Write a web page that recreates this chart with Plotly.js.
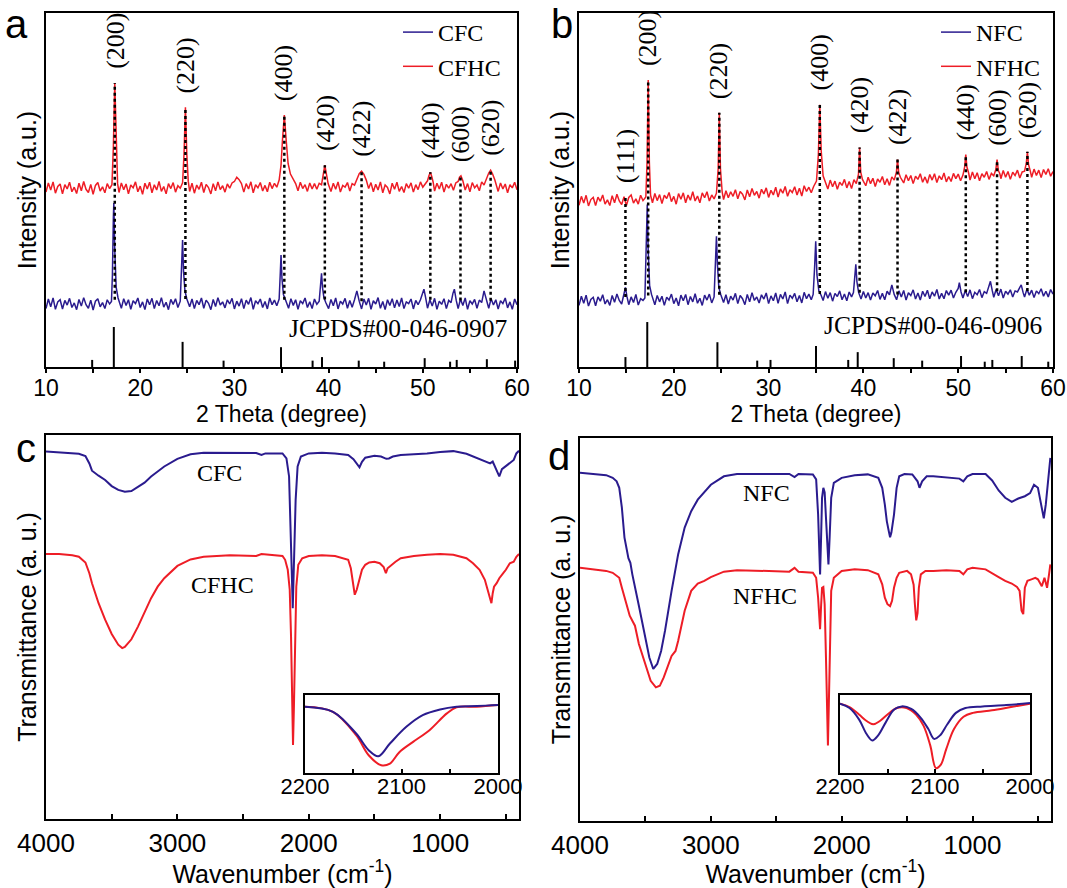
<!DOCTYPE html>
<html>
<head>
<meta charset="utf-8">
<script src="https://cdn.plot.ly/plotly-3.0.1.min.js"></script>
<style>html,body{margin:0;padding:0;background:#fff;}#chart{width:1067px;height:888px;}</style>
</head>
<body>
<div id="chart"></div>
<script>
// ---------------- DATA ----------------
// Panel a : XRD of CFHC (red) and CFC (blue), intensity in a.u.
const cfhcX = [10,10.25,10.5,10.75,11,11.25,11.5,11.75,12,12.25,12.5,12.75,13,13.25,13.5,13.75,14,14.25,14.5,14.75,15,15.25,15.5,15.75,16,16.25,16.5,16.75,
  17.0,17.15,17.3,17.45,17.6,
  17.75,18,18.25,18.5,18.75,19,19.25,19.5,19.75,20,20.25,20.5,20.75,21,21.25,21.5,21.75,22,22.25,22.5,22.75,23,23.25,23.5,23.75,24,24.25,
  24.5,24.65,24.8,24.95,25.1,
  25.25,25.5,25.75,26,26.25,26.5,26.75,27,27.25,27.5,27.75,28,28.25,28.5,28.75,29,29.25,29.5,29.75,
  30,30.25,30.5,30.75,
  31,31.25,31.5,31.75,32,32.25,32.5,32.75,33,33.25,33.5,33.75,34,34.25,34.5,
  34.75,34.95,35.1,35.3,35.5,35.7,35.95,36.25,36.5,
  36.75,37,37.25,37.5,37.75,38,38.25,38.5,38.75,39,
  39.25,39.45,39.6,39.75,39.95,
  40.25,40.5,40.75,41,41.25,41.5,41.75,42,42.25,42.5,42.75,
  43,43.25,43.5,43.75,44,
  44.25,44.5,44.75,45,45.25,45.5,45.75,46,46.25,46.5,46.75,47,47.25,47.5,47.75,48,48.25,48.5,48.75,49,49.25,49.5,49.75,50,50.25,
  50.5,50.65,50.8,50.95,51.1,
  51.25,51.5,51.75,52,52.25,52.5,52.75,53,53.25,53.5,
  53.75,53.9,54.05,54.25,
  54.5,54.75,55,55.25,55.5,55.75,56,56.25,56.5,
  56.75,57.0,57.2,57.4,57.65,
  58,58.25,58.5,58.75,59,59.25,59.5,59.75,60];
const cfhcY = [49.4,52.0,50.0,52.3,49.1,51.0,51.7,48.9,51.5,50.3,52.2,49.5,50.8,49.0,51.9,49.8,52.4,50.2,49.3,51.6,48.8,51.3,52.1,49.7,50.9,49.2,51.8,50.4,
  51.5,62,80.2,62,51.8,
  49.3,52.0,50.1,51.7,48.9,51.4,50.6,52.3,49.5,51.1,48.8,51.9,50.3,52.2,49.2,51.5,50.0,52.4,49.6,51.0,48.9,51.8,50.4,52.1,49.4,51.2,50.5,
  52.0,60,73.4,60,52.5,
  49.6,51.9,49.1,51.4,50.2,52.2,49.3,51.6,50.7,48.9,51.8,49.8,52.3,50.1,51.2,49.4,51.7,50.5,52.0,
  52.4,53.6,52.9,51.8,
  49.4,51.8,50.3,52.3,49.2,51.5,50.6,52.1,49.7,51.3,49.5,52.2,50.4,51.9,50.8,
  52.8,57,64,71.2,64,57.5,54.5,53.0,51.8,
  49.8,52.2,50.4,51.5,49.6,52.0,50.3,51.8,50.2,51.9,
  51.5,54.5,57.0,54.8,51.8,
  49.6,51.9,50.2,52.3,49.4,51.3,50.8,52.1,49.7,51.8,51.4,
  53.2,54.6,55.3,54.4,52.8,
  50.4,52.1,49.5,51.6,50.0,52.3,49.2,51.4,50.7,48.9,51.9,50.2,52.2,49.6,51.0,49.3,51.8,50.5,52.0,49.4,51.5,50.1,52.3,50.8,51.6,
  52.6,54.0,55.0,53.8,52.2,
  49.7,51.9,50.3,52.2,49.4,51.6,50.5,51.8,49.9,52.0,
  52.4,53.6,54.0,52.6,
  50.0,51.8,49.5,52.1,50.6,51.4,49.8,52.3,51.4,
  53.2,54.8,55.6,54.6,52.8,
  49.6,52.0,50.3,51.7,49.2,51.5,50.6,52.2,50.1];
const cfcX = [10,10.25,10.5,10.75,11,11.25,11.5,11.75,12,12.25,12.5,12.75,13,13.25,13.5,13.75,14,14.25,14.5,14.75,15,15.25,15.5,15.75,16,16.25,16.5,16.75,
  16.95,17.05,17.15,17.2,17.3,17.45,17.65,
  18,18.25,18.5,18.75,19,19.25,19.5,19.75,20,20.25,20.5,20.75,21,21.25,21.5,21.75,22,22.25,22.5,22.75,23,23.25,23.5,23.75,24,
  24.25,24.35,24.45,24.5,24.6,24.75,24.95,
  25.25,25.5,25.75,26,26.25,26.5,26.75,27,27.25,27.5,27.75,28,28.25,28.5,28.75,29,29.25,29.5,29.75,30,30.25,30.5,30.75,31,31.25,31.5,31.75,32,32.25,32.5,32.75,33,33.25,33.5,33.75,34,34.25,34.5,
  34.75,34.88,34.95,35.05,35.2,35.45,
  35.75,36,36.25,36.5,36.75,37,37.25,37.5,37.75,38,38.25,38.5,38.75,39,
  39.12,39.25,39.35,39.5,39.7,
  40,40.25,40.5,40.75,41,41.25,41.5,41.75,42,42.25,42.5,42.75,
  43.0,43.25,
  43.5,43.75,44,44.25,44.5,44.75,45,45.25,45.5,45.75,46,46.25,46.5,46.75,47,47.25,47.5,47.75,48,48.25,48.5,48.75,49,49.25,49.5,49.75,
  50.0,50.12,50.3,
  50.5,50.75,51,51.25,51.5,51.75,52,52.25,52.5,52.75,53,
  53.2,53.35,53.55,
  53.75,54,54.25,54.5,54.75,55,55.25,55.5,55.75,56,56.25,
  56.5,56.7,
  57,57.25,57.5,57.75,58,58.25,58.5,58.75,59,59.25,59.5,59.75,60];
const cfcY = [16.5,19.2,17.0,19.5,16.3,18.4,19.0,16.4,18.8,17.5,19.4,16.8,18.1,16.2,19.1,17.2,19.6,17.6,16.6,18.9,16.1,18.6,19.3,17.0,18.2,16.5,19.0,17.8,
  18.5,26,42,46.3,33,22.5,19.5,
  16.6,19.3,17.4,19.0,16.3,18.7,17.9,19.5,16.8,18.4,16.2,19.2,17.6,19.4,16.5,18.8,17.3,19.6,16.9,18.3,16.2,19.1,17.7,19.3,16.8,
  18.6,24,33,35.9,27,21.5,19.2,
  17.0,19.2,16.5,18.8,17.6,19.5,16.6,18.9,18.0,16.2,19.1,17.1,19.6,17.5,18.4,16.7,19.0,17.8,19.4,16.4,18.6,17.2,19.3,16.5,18.9,17.7,19.6,16.3,18.7,17.9,19.2,16.8,18.5,16.4,19.5,17.6,18.9,17.3,
  19.2,27,31.6,25,20.5,18.8,
  16.6,19.3,17.4,19.0,16.3,18.7,17.9,19.5,16.8,18.4,16.5,19.2,17.7,18.6,
  21.5,26.5,22.5,19.6,18.2,
  16.5,19.1,17.3,19.5,16.4,18.6,17.8,19.4,16.6,18.8,16.9,19.0,
  21.5,18.6,
  16.4,19.2,17.5,19.4,16.3,18.7,17.8,19.6,16.6,18.5,16.2,19.0,17.4,19.3,16.7,18.9,17.1,19.5,16.5,18.4,17.9,19.2,16.4,18.8,17.6,19.0,
  20.8,22.0,19.6,
  16.6,19.0,17.2,19.4,16.3,18.6,17.7,19.3,16.5,18.8,18.2,
  20.8,22.0,18.8,
  16.5,19.2,17.4,19.5,16.3,18.7,17.8,19.1,16.6,18.9,18.2,
  21.5,19.8,
  16.6,19.3,17.5,19.0,16.4,18.7,17.9,19.5,16.7,18.4,16.3,19.2,17.6];
const jcpdsA = 'JCPDS#00-046-0907';
const stickAPos = [14.9,17.2,24.5,28.85,34.95,38.3,39.3,43.2,45.9,50.2,52.9,53.6,56.8,59.8];
const stickAH   = [2.0,11.3,7.1,1.8,5.6,1.8,2.8,1.8,1.5,2.5,1.5,2.0,2.2,1.8];
const hklA    = ['(200)','(220)','(400)','(420)','(422)','(440)','(600)','(620)'];
const hklAPos = [17.3,24.8,35.3,39.6,43.5,50.8,54.0,57.2];

// Panel b : XRD of NFHC (red) and NFC (blue)
const nfhcX = [10,10.25,10.5,10.75,11,11.25,11.5,11.75,12,12.25,12.5,12.75,13,13.25,13.5,13.75,14,14.25,14.5,14.75,15,15.25,15.5,15.75,16,16.25,16.5,16.75,
  17.05,17.18,17.3,17.42,17.55,
  17.75,18,18.25,18.5,18.75,19,19.25,19.5,19.75,20,20.25,20.5,20.75,21,21.25,21.5,21.75,22,22.25,22.5,22.75,23,23.25,23.5,23.75,24,24.25,24.5,
  24.68,24.8,24.92,25.1,
  25.25,25.5,25.75,26,26.25,26.5,26.75,27,27.25,27.5,27.75,28,28.25,28.5,28.75,29,29.25,29.5,29.75,30,30.25,30.5,30.75,31,31.25,31.5,31.75,32,32.25,32.5,32.75,33,33.25,33.5,33.75,34,34.25,34.5,34.75,
  35.05,35.25,35.4,35.55,35.75,36.0,
  36.25,36.5,36.75,37,37.25,37.5,37.75,38,38.25,38.5,38.75,39,39.25,
  39.48,39.6,39.72,39.9,
  40.25,40.5,40.75,41,41.25,41.5,41.75,42,42.25,42.5,42.75,43,43.25,
  43.48,43.6,43.72,43.9,
  44.25,44.5,44.75,45,45.25,45.5,45.75,46,46.25,46.5,46.75,47,47.25,47.5,47.75,48,48.25,48.5,48.75,49,49.25,49.5,49.75,50,50.25,50.5,
  50.68,50.8,50.92,51.1,
  51.25,51.5,51.75,52,52.25,52.5,52.75,53,53.25,53.5,53.75,
  53.97,54.1,54.23,54.4,
  54.5,54.75,55,55.25,55.5,55.75,56,56.25,56.5,56.75,57,
  57.18,57.3,57.42,57.6,
  57.75,58,58.25,58.5,58.75,59,59.25,59.5,59.75,60];
const nfhcY = [45.7,48.2,46.3,48.5,45.5,47.3,47.9,45.6,48.0,46.8,48.6,46.0,47.2,45.6,48.4,46.4,48.8,46.9,45.9,48.1,45.6,47.9,48.6,46.3,47.5,46.0,48.5,47.0,
  48.0,58,81.1,58,48.5,
  46.4,49.0,47.0,48.7,46.2,48.5,47.6,49.3,46.7,48.2,46.0,49.0,47.4,49.2,46.4,48.6,47.1,49.5,46.9,48.3,46.4,49.2,47.8,49.5,46.9,48.6,47.5,49.1,
  56,71.8,56,49.5,
  47.3,49.8,47.8,49.5,48.2,50.1,47.5,49.6,48.8,47.2,50.0,48.1,50.4,48.5,49.6,47.7,50.2,48.9,50.6,47.9,49.9,48.6,50.8,48.0,50.3,49.1,51.0,48.2,50.1,49.3,50.9,48.6,50.5,48.3,51.2,49.6,50.8,49.2,51.0,
  52.5,60,74.1,61,54.0,52.3,
  50.3,52.8,50.9,52.5,50.2,52.2,51.3,53.0,50.6,52.4,50.4,52.9,51.8,
  54.5,62.0,55,53.0,
  51.2,53.6,51.8,53.3,51.0,53.1,52.2,53.8,51.5,53.2,51.3,53.7,52.8,
  55,58.6,55,53.6,
  52.0,54.3,52.6,54.1,51.8,53.9,53.0,54.6,52.2,53.7,51.9,54.4,52.8,54.6,52.1,54.0,52.9,54.8,52.3,53.8,52.4,54.7,53.2,54.5,52.6,54.2,
  56.5,60.0,56.5,54.8,
  52.8,55.1,53.2,54.9,52.6,54.6,53.6,55.2,53.0,54.7,54.0,
  55.8,58.6,55.6,54.5,
  53.2,55.5,53.6,55.2,53.0,55.0,54.1,55.6,53.4,55.1,55.3,
  57.5,60.8,57.2,55.4,
  53.6,55.9,54.1,55.6,53.5,55.8,54.4,56.0,53.9,55.2];
const nfcX = [10,10.25,10.5,10.75,11,11.25,11.5,11.75,12,12.25,12.5,12.75,13,13.25,13.5,13.75,14,14.25,14.5,14.75,
  14.9,15.05,
  15.25,15.5,15.75,16,16.25,16.5,16.75,
  16.95,17.05,17.15,17.2,17.3,17.45,17.65,
  18,18.25,18.5,18.75,19,19.25,19.5,19.75,20,20.25,20.5,20.75,21,21.25,21.5,21.75,22,22.25,22.5,22.75,23,23.25,23.5,23.75,24,
  24.25,24.35,24.45,24.5,24.6,24.75,24.95,
  25.25,25.5,25.75,26,26.25,26.5,26.75,27,27.25,27.5,27.75,28,28.25,28.5,28.75,29,29.25,29.5,29.75,30,30.25,30.5,30.75,31,31.25,31.5,31.75,32,32.25,32.5,32.75,33,33.25,33.5,33.75,34,34.25,34.5,
  34.7,34.85,34.97,35.1,35.3,35.55,
  35.75,36,36.25,36.5,36.75,37,37.25,37.5,37.75,38,38.25,38.5,38.75,
  38.95,39.08,39.2,39.32,39.5,
  39.75,40,40.25,40.5,40.75,41,41.25,41.5,41.75,42,42.25,42.5,42.75,
  43.0,43.25,
  43.5,43.75,44,44.25,44.5,44.75,45,45.25,45.5,45.75,46,46.25,46.5,46.75,47,47.25,47.5,47.75,48,48.25,48.5,48.75,49,49.25,49.5,49.75,
  50.0,50.12,50.3,
  50.5,50.75,51,51.25,51.5,51.75,52,52.25,52.5,52.75,53,
  53.25,53.4,53.6,
  53.75,54,54.25,54.5,54.75,55,55.25,55.5,55.75,56,56.25,
  56.5,56.65,56.85,
  57,57.25,57.5,57.75,58,58.25,58.5,58.75,59,59.25,59.5,59.75,60];
const nfcY = [17.4,20.0,18.0,20.3,17.2,19.1,19.7,17.3,19.8,18.6,20.4,17.8,19.0,17.4,20.2,18.3,20.6,18.8,17.8,20.5,
  22.5,20.0,
  17.6,19.8,18.2,20.5,17.5,19.3,18.8,
  19.5,28,43,45.9,33,23,20.5,
  17.6,20.2,18.4,20.0,17.4,19.7,18.9,20.6,17.9,19.5,17.3,20.3,18.7,20.5,17.6,19.9,18.4,20.7,18.0,19.4,17.4,20.3,18.9,20.6,18.1,
  19.8,26,35,36.9,29,22.5,20.5,
  18.2,20.4,17.8,20.0,18.9,20.8,17.9,20.2,19.3,17.6,20.5,18.4,21.0,18.8,19.8,18.1,20.4,19.2,20.9,17.9,20.1,18.7,20.9,18.0,20.5,19.2,21.2,17.9,20.3,19.4,20.8,18.4,20.2,18.1,21.1,19.3,20.6,19.0,
  20.5,28,35.5,26,21.5,20.2,
  18.8,21.3,19.4,21.0,18.6,20.8,19.9,21.5,19.0,20.6,18.7,21.2,19.8,
  21.0,26,29.0,24,21.0,
  19.2,21.3,19.5,21.0,18.9,20.9,20.1,21.6,19.1,20.8,19.0,21.4,20.4,
  23.2,20.5,
  19.0,21.5,19.8,21.6,18.9,21.0,20.2,21.8,19.2,20.9,18.9,21.4,19.9,21.7,19.3,21.2,20.0,21.9,19.2,20.8,19.3,21.6,20.3,21.7,19.5,21.1,
  22.2,23.8,21.2,
  19.5,21.6,19.9,21.8,19.3,21.1,20.4,21.9,19.6,21.3,20.8,
  22.8,24.2,21.5,
  19.7,21.9,20.1,22.0,19.5,21.4,20.6,21.8,19.8,21.5,21.2,
  22.5,23.2,21.0,
  19.8,22.0,20.3,21.7,19.6,21.5,20.7,22.1,20.0,21.4,19.8,21.9,20.6];
const jcpdsB = 'JCPDS#00-046-0906';
const stickBPos = [14.9,17.2,24.6,28.8,30.2,35.0,38.4,39.4,43.2,46.2,50.3,52.8,53.6,56.7,59.5];
const stickBH   = [2.8,12.7,7.0,1.8,2.0,5.9,2.0,4.2,2.5,1.8,3.1,1.5,2.0,3.1,1.5];
const hklB    = ['(111)','(200)','(220)','(400)','(420)','(422)','(440)','(600)','(620)'];
const hklBPos = [14.9,17.3,24.8,35.4,39.6,43.6,50.8,54.1,57.3];

// Panel c : FTIR of CFC (blue) and CFHC (red), transmittance a.u.
const cfcWn = [4000,3900,3800,3750,3700,3670,3650,3620,3600,3550,3500,3450,3400,3350,3300,3250,3200,3100,3000,2900,2800,2600,2400,2360,2330,2200,2170,2150,2140,2130,2122,2112,2100,2085,2060,2000,1900,1800,1700,1660,1630,1614,1595,1570,1500,1450,1410,1390,1360,1300,1200,1100,1000,900,800,750,700,650,620,600,570,550,530,500,470,440,420,400];
const cfcT  = [95.7,95.4,95.2,95.1,94.5,92.6,90.7,89.9,89.4,88.3,86.7,85.7,85.2,85.4,86.4,87.6,89.2,91.8,93.8,95.0,95.4,95.4,95.3,94.8,95.2,95.2,93.9,89.2,79.6,64.9,54.9,66.6,83.1,91.8,94.4,95.2,95.4,95.2,94.8,93.7,92.2,91.6,93.0,94.1,94.6,94.4,93.8,93.9,94.4,94.8,95.0,95.2,95.6,95.8,95.1,94.4,93.7,93.1,92.6,93.1,90.9,89.2,91.1,91.9,92.6,93.5,95.2,95.9];
const cfhcWn = [4000,3900,3800,3750,3700,3670,3650,3600,3550,3500,3450,3420,3400,3350,3300,3250,3200,3150,3100,3000,2900,2800,2600,2400,2360,2200,2180,2160,2145,2135,2127,2120,2113,2105,2095,2080,2050,2000,1900,1800,1700,1680,1665,1650,1635,1615,1595,1570,1540,1500,1460,1430,1413,1400,1370,1340,1300,1200,1100,1000,900,800,750,700,660,640,620,610,600,590,570,550,520,500,470,440,420,400];
const cfhcT  = [69.0,69.0,68.7,68.3,66.8,64.0,61.4,56.2,51.9,48.2,45.4,44.5,44.8,46.8,50.1,53.8,57.5,60.5,62.7,65.9,67.6,68.3,68.7,68.5,69.0,68.5,67.5,64.9,59.7,47.5,30.2,19.3,29.3,47.5,60.5,66.2,67.9,68.5,68.7,68.5,67.5,65.3,61.4,58.4,59.7,62.7,64.9,66.2,66.8,67.0,66.6,65.6,64.0,65.3,66.2,67.0,67.9,68.5,68.8,69.0,68.8,67.9,66.6,64.9,62.3,59.7,57.5,56.2,58.8,60.5,61.4,62.7,64.0,64.9,66.6,67.0,68.3,69.0];
const insetCfcWn  = [2200,2171,2147,2134,2124,2112,2095,2078,2060,2043,2022,2000];
const insetCfcT   = [85.0,78.5,50.6,29.2,21.5,37.8,59.2,74.2,81.5,85.0,85.8,87.1];
const insetCfhcWn = [2200,2171,2147,2134,2121,2112,2102,2088,2071,2053,2043,2022,2000];
const insetCfhcT  = [85.0,78.5,48.5,22.7,9.9,12.0,27.0,39.9,54.9,76.4,84.1,85.0,87.1];

// Panel d : FTIR of NFC (blue) and NFHC (red)
const nfcWn = [4000,3900,3800,3750,3720,3700,3680,3660,3640,3630,3615,3600,3550,3500,3470,3440,3410,3380,3350,3300,3250,3200,3150,3100,3000,2900,2800,2600,2400,2360,2330,2220,2195,2180,2170,2165,2158,2150,2140,2130,2120,2110,2101,2092,2080,2060,2000,1900,1800,1720,1690,1670,1655,1640,1630,1620,1600,1580,1560,1520,1460,1420,1405,1385,1350,1300,1200,1100,1070,1040,1000,900,850,800,750,700,650,600,560,530,500,470,455,440,420,405];
const nfcT  = [90.9,90.6,90.3,89.6,88.7,87.0,81.8,74.0,69.6,68.6,67.4,64.4,56.2,47.9,42.7,39.7,41.0,44.4,49.7,60.1,69.6,76.6,80.9,83.9,87.8,90.0,90.6,90.6,90.6,89.8,90.6,90.5,89.2,80.0,67.0,64.4,73.1,84.4,87.0,85.8,79.2,70.5,67.0,74.0,84.4,88.3,89.6,90.3,90.5,89.6,87.0,82.6,78.3,75.7,74.1,75.3,80.0,87.0,90.0,90.6,90.5,88.7,87.0,88.7,90.0,90.0,89.7,89.4,88.7,90.0,90.6,90.6,88.9,86.3,84.4,83.3,84.2,84.8,85.6,87.8,87.0,81.8,79.0,82.6,88.7,94.8];
const nfhcWn = [4000,3900,3800,3750,3700,3680,3650,3620,3600,3580,3550,3500,3460,3420,3390,3360,3330,3300,3270,3250,3200,3150,3100,3050,3000,2900,2800,2600,2400,2360,2330,2220,2195,2180,2170,2165,2158,2150,2140,2130,2120,2112,2105,2098,2090,2080,2060,2000,1900,1800,1720,1690,1670,1650,1630,1615,1600,1580,1560,1500,1470,1450,1440,1430,1420,1410,1395,1360,1300,1200,1100,1070,1040,1000,900,850,800,750,700,660,640,625,612,600,580,550,520,500,470,450,430,415,405];
const nfhcT  = [66.1,65.7,65.3,64.8,63.5,60.9,57.5,53.6,52.3,51.0,46.2,40.5,36.6,34.9,35.3,37.5,40.5,43.1,44.4,47.0,54.9,60.1,62.0,62.7,63.7,65.1,65.5,65.3,65.1,66.1,65.1,64.8,63.5,58.3,51.4,50.1,55.7,60.9,61.1,56.6,42.7,29.7,19.7,30.6,49.7,60.1,63.5,65.3,65.7,65.5,64.4,61.8,58.3,56.6,56.1,57.5,60.9,63.5,64.8,65.3,64.4,61.7,56.4,52.4,54.3,60.9,64.4,65.3,65.3,65.5,65.3,64.4,65.7,66.1,65.7,64.8,63.7,62.7,62.0,61.1,60.1,54.9,54.0,60.9,62.7,63.1,63.5,63.1,61.3,63.5,60.9,64.4,67.0];
const insetNfcWn  = [2200,2190,2180,2172,2166,2160,2152,2143,2135,2125,2115,2107,2101,2095,2087,2078,2068,2050,2025,2000];
const insetNfcT   = [88.8,83.3,68.8,50.0,41.7,47.9,64.6,81.3,85.4,82.1,70.8,56.3,43.8,47.9,62.5,77.1,83.3,85.4,87.1,89.6];
const insetNfhcWn = [2200,2190,2180,2172,2165,2158,2150,2140,2130,2120,2112,2105,2099,2094,2088,2080,2070,2060,2040,2020,2000];
const insetNfhcT  = [88.8,84.6,75.0,66.7,62.5,66.7,75.0,83.3,83.3,75.0,60.4,35.4,6.3,10.4,31.3,56.3,72.1,77.1,80.4,84.6,88.8];

// ---------------- STYLE / LAYOUT ----------------
const W = 1067, H = 888;
const PX = v => v / W;
const PY = v => 1 - v / H;
const BLUE = '#2a1b8e', RED = '#ee1d26';
const SANS = 'Arial, "Liberation Sans", sans-serif';
const SERIF = '"Times New Roman", "Liberation Serif", serif';

function localMax(xs, ys, x0, w) {
  let m = -Infinity;
  xs.forEach((x, i) => { if (Math.abs(x - x0) <= w && ys[i] > m) m = ys[i]; });
  return m;
}
function localMedian(xs, ys, x0, w) {
  const v = [];
  xs.forEach((x, i) => { if (Math.abs(x - x0) <= w) v.push(ys[i]); });
  v.sort((a, b) => a - b);
  return v[Math.floor(v.length / 2)];
}
function sticks(pos, h) {
  const x = [], y = [];
  pos.forEach((p, i) => { x.push(p, p, null); y.push(0, h[i], null); });
  return {x, y};
}

const traces = [];
// panel a
traces.push({x: cfcX, y: cfcY, xaxis: 'x', yaxis: 'y', mode: 'lines', name: 'CFC', legend: 'legend', line: {color: BLUE, width: 1.5}});
traces.push({x: cfhcX, y: cfhcY, xaxis: 'x', yaxis: 'y', mode: 'lines', name: 'CFHC', legend: 'legend', line: {color: RED, width: 1.5}});
const sA = sticks(stickAPos, stickAH);
traces.push({x: sA.x, y: sA.y, xaxis: 'x', yaxis: 'y', mode: 'lines', showlegend: false, line: {color: '#000', width: 2}, hoverinfo: 'skip'});
// panel b
traces.push({x: nfcX, y: nfcY, xaxis: 'x2', yaxis: 'y2', mode: 'lines', name: 'NFC', legend: 'legend2', line: {color: BLUE, width: 1.5}});
traces.push({x: nfhcX, y: nfhcY, xaxis: 'x2', yaxis: 'y2', mode: 'lines', name: 'NFHC', legend: 'legend2', line: {color: RED, width: 1.5}});
const sB = sticks(stickBPos, stickBH);
traces.push({x: sB.x, y: sB.y, xaxis: 'x2', yaxis: 'y2', mode: 'lines', showlegend: false, line: {color: '#000', width: 2}, hoverinfo: 'skip'});
// panel c
traces.push({x: cfcWn, y: cfcT, xaxis: 'x3', yaxis: 'y3', mode: 'lines', showlegend: false, line: {color: BLUE, width: 2}});
traces.push({x: cfhcWn, y: cfhcT, xaxis: 'x3', yaxis: 'y3', mode: 'lines', showlegend: false, line: {color: RED, width: 2}});
traces.push({x: insetCfhcWn, y: insetCfhcT, xaxis: 'x5', yaxis: 'y5', mode: 'lines', showlegend: false, line: {color: RED, width: 2, shape: 'spline'}});
traces.push({x: insetCfcWn, y: insetCfcT, xaxis: 'x5', yaxis: 'y5', mode: 'lines', showlegend: false, line: {color: BLUE, width: 2, shape: 'spline'}});
// panel d
traces.push({x: nfcWn, y: nfcT, xaxis: 'x4', yaxis: 'y4', mode: 'lines', showlegend: false, line: {color: BLUE, width: 2}});
traces.push({x: nfhcWn, y: nfhcT, xaxis: 'x4', yaxis: 'y4', mode: 'lines', showlegend: false, line: {color: RED, width: 2}});
traces.push({x: insetNfhcWn, y: insetNfhcT, xaxis: 'x6', yaxis: 'y6', mode: 'lines', showlegend: false, line: {color: RED, width: 2, shape: 'spline'}});
traces.push({x: insetNfcWn, y: insetNfcT, xaxis: 'x6', yaxis: 'y6', mode: 'lines', showlegend: false, line: {color: BLUE, width: 2, shape: 'spline'}});

const axBase = {
  showline: true, linecolor: '#000', linewidth: 2, mirror: true, showgrid: false, zeroline: false,
  ticks: 'outside', ticklen: 4, tickwidth: 2, tickcolor: '#000',
  tickfont: {family: SANS, size: 26, color: '#000'}, automargin: false, fixedrange: true
};
const yBase = Object.assign({}, axBase, {ticks: '', showticklabels: false, range: [0, 100]});
const xrdX = {range: [10, 60], dtick: 10, tick0: 10, ticklabelstandoff: -5,
  tickfont: {family: SANS, size: 23, color: '#000'},
  minor: {dtick: 5, ticks: 'outside', ticklen: 4, tickwidth: 2, tickcolor: '#000'},
  title: {text: '2 Theta (degree)', font: {family: SANS, size: 23}, standoff: 0}};
const ftirX = {range: [4000, 400], dtick: 1000, tick0: 0, ticks: 'inside', ticklen: 5,
  minor: {dtick: 500, ticks: 'inside', ticklen: 5, tickwidth: 2, tickcolor: '#000'},
  title: {text: 'Wavenumber (cm<sup>-1</sup>)', font: {family: SANS, size: 25}, standoff: 2}};
const insetX = {range: [2200, 2000], tickvals: [2200, 2100, 2000], ticks: 'inside', ticklen: 4, ticklabelstandoff: -7,
  tickfont: {family: SANS, size: 22, color: '#000'},
  minor: {tickvals: [2150, 2050], ticks: 'inside', ticklen: 4, tickwidth: 2, tickcolor: '#000'}};

const layout = {
  width: W, height: H, margin: {l: 0, r: 0, t: 0, b: 0},
  paper_bgcolor: '#fff', plot_bgcolor: 'rgba(0,0,0,0)',
  font: {family: SANS, color: '#000'},
  xaxis: Object.assign({}, axBase, xrdX, {domain: [PX(46), PX(517)], anchor: 'y'}),
  yaxis: Object.assign({}, yBase, {domain: [PY(367), PY(13)], anchor: 'x',
    title: {text: 'Intensity (a.u.)', font: {family: SANS, size: 25}, standoff: 0}}),
  xaxis2: Object.assign({}, axBase, xrdX, {domain: [PX(579), PX(1053)], anchor: 'y2'}),
  yaxis2: Object.assign({}, yBase, {domain: [PY(367), PY(13)], anchor: 'x2',
    title: {text: 'Intensity (a.u.)', font: {family: SANS, size: 25}, standoff: 0}}),
  xaxis3: Object.assign({}, axBase, ftirX, {domain: [PX(46), PX(519)], anchor: 'y3'}),
  yaxis3: Object.assign({}, yBase, {domain: [PY(819), PY(435)], anchor: 'x3',
    title: {text: 'Transmittance (a. u.)', font: {family: SANS, size: 25}, standoff: 0}}),
  xaxis4: Object.assign({}, axBase, ftirX, {domain: [PX(580), PX(1051)], anchor: 'y4'}),
  yaxis4: Object.assign({}, yBase, {domain: [PY(821), PY(438)], anchor: 'x4',
    title: {text: 'Transmittance (a. u.)', font: {family: SANS, size: 25}, standoff: 0}}),
  xaxis5: Object.assign({}, axBase, insetX, {domain: [PX(305), PX(498)], anchor: 'y5'}),
  yaxis5: Object.assign({}, yBase, {domain: [PY(773), PY(695)], anchor: 'x5'}),
  xaxis6: Object.assign({}, axBase, insetX, {domain: [PX(840), PX(1030)], anchor: 'y6'}),
  yaxis6: Object.assign({}, yBase, {domain: [PY(773), PY(695)], anchor: 'x6'}),
  legend: {x: PX(398), y: PY(10), xanchor: 'left', yanchor: 'top', bgcolor: 'rgba(0,0,0,0)',
    font: {family: SERIF, size: 24, color: '#000'}, tracegroupgap: 0, itemwidth: 30},
  legend2: {x: PX(936), y: PY(10), xanchor: 'left', yanchor: 'top', bgcolor: 'rgba(0,0,0,0)',
    font: {family: SERIF, size: 24, color: '#000'}, tracegroupgap: 0, itemwidth: 30},
  shapes: [], annotations: []
};

// dotted guide lines + hkl labels
function addHkl(labels, pos, redX, redY, blueX, blueY, xa, ya) {
  labels.forEach((lab, i) => {
    const top = localMax(redX, redY, pos[i], 0.3);
    const bottom = localMedian(blueX, blueY, pos[i], 1.5);
    layout.shapes.push({type: 'line', xref: xa, yref: ya, x0: pos[i], x1: pos[i], y0: bottom, y1: top,
      line: {color: '#000', width: 2.5, dash: 'dot'}, layer: 'above'});
    layout.annotations.push({xref: xa, yref: ya, x: pos[i], y: top, text: lab, textangle: -90, showarrow: false,
      xanchor: 'center', yanchor: 'bottom', yshift: 12, font: {family: SERIF, size: 26, color: '#000'}});
  });
}
addHkl(hklA, hklAPos, cfhcX, cfhcY, cfcX, cfcY, 'x', 'y');
addHkl(hklB, hklBPos, nfhcX, nfhcY, nfcX, nfcY, 'x2', 'y2');

const txt = (text, x, y, xanchor, size, family, yanchor) => ({xref: 'paper', yref: 'paper', x: PX(x), y: PY(y), text: text,
  showarrow: false, xanchor: xanchor, yanchor: yanchor || 'middle', font: {family: family, size: size, color: '#000'}});
layout.annotations.push(
  txt(jcpdsA, 509, 328, 'right', 25.5, SERIF),
  txt(jcpdsB, 1044, 325, 'right', 25.5, SERIF),
  txt('CFC', 219, 473, 'center', 24, SERIF),
  txt('CFHC', 222, 585, 'center', 24, SERIF),
  txt('NFC', 766, 493, 'center', 24, SERIF),
  txt('NFHC', 765, 596, 'center', 24, SERIF),
  txt('a', 3, 0, 'left', 40, SANS, 'top'),
  txt('b', 549, 0, 'left', 40, SANS, 'top'),
  txt('c', 14, 448, 'left', 40, SANS),
  txt('d', 546, 456, 'left', 40, SANS)
);

Plotly.newPlot('chart', traces, layout, {staticPlot: true, displayModeBar: false});
</script>
</body>
</html>
